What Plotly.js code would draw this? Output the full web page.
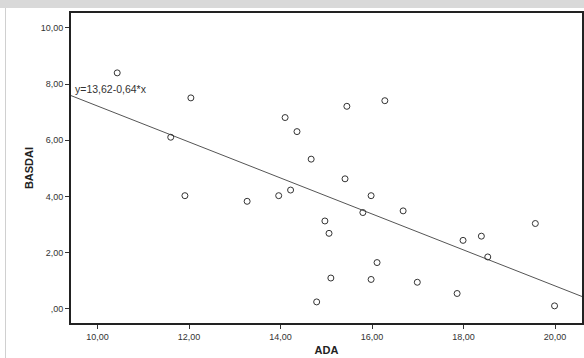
<!DOCTYPE html>
<html>
<head>
<meta charset="utf-8">
<script src="https://cdn.plot.ly/plotly-3.0.1.min.js"></script>
<style>
html,body{margin:0;padding:0;background:#fff;}
#wrap{position:relative;width:584px;height:358px;overflow:hidden;}
#topbar{position:absolute;left:0;top:0;width:584px;height:8px;background:#d9d9d9;}
#leftline{position:absolute;left:5px;top:8px;width:1px;height:350px;background:#d0d0d0;}
#chart{position:absolute;left:0;top:0;width:584px;height:358px;}
</style>
</head>
<body>
<div id="wrap">
<div id="topbar"></div>
<div id="leftline"></div>
<div id="chart"></div>
</div>
<script>
const ada = [10.43, 12.04, 11.60, 11.91, 13.27, 14.10, 14.36, 14.67, 13.96, 14.22, 14.79,
             15.45, 16.28, 15.41, 15.98, 15.80, 16.68, 14.97, 15.06, 19.57, 17.99, 18.39,
             18.53, 16.11, 15.10, 15.98, 16.99, 17.86, 19.99];
const basdai = [8.40, 7.51, 6.11, 4.03, 3.83, 6.81, 6.31, 5.33, 4.03, 4.23, 0.25,
                7.21, 7.41, 4.63, 4.03, 3.43, 3.49, 3.13, 2.69, 3.04, 2.44, 2.59,
                1.85, 1.65, 1.10, 1.05, 0.95, 0.55, 0.11];
const fitCoef = [13.62, -0.64];
const fitLabel = "y=13,62-0,64*x";
const xTickVals = [10, 12, 14, 16, 18, 20];
const xTickText = ["10,00", "12,00", "14,00", "16,00", "18,00", "20,00"];
const yTickVals = [0, 2, 4, 6, 8, 10];
const yTickText = [",00", "2,00", "4,00", "6,00", "8,00", "10,00"];
const xRange = [9.42, 20.59];
const yRange = [-0.5, 10.53];

const fitX = xRange.slice();
const fitY = fitX.map(x => fitCoef[0] + fitCoef[1] * x);

const traces = [
  {x: fitX, y: fitY, mode: 'lines', type: 'scatter',
   line: {color: '#555', width: 1}, hoverinfo: 'skip', showlegend: false, cliponaxis: true},
  {x: ada, y: basdai, mode: 'markers', type: 'scatter',
   marker: {symbol: 'circle-open', size: 6, color: '#333', line: {width: 1, color: '#333'}},
   showlegend: false}
];

const axFont = {family: 'Liberation Sans, Arial, sans-serif', size: 9, color: '#333'};
const titleFont = {family: 'Liberation Sans, Arial, sans-serif', size: 11, color: '#222', weight: 'bold'};

const layout = {
  width: 584, height: 358,
  margin: {l: 71, r: 2, t: 13, b: 35, pad: 0},
  paper_bgcolor: 'rgba(0,0,0,0)',
  plot_bgcolor: '#fff',
  xaxis: {
    range: xRange, tickvals: xTickVals, ticktext: xTickText,
    showgrid: false, zeroline: false,
    showline: true, mirror: true, linecolor: '#222', linewidth: 2,
    ticks: 'outside', ticklen: 4, tickcolor: '#333', tickwidth: 1,
    tickfont: axFont,
    title: {text: '<b>ADA</b>', font: titleFont, standoff: 6}
  },
  yaxis: {
    range: yRange, tickvals: yTickVals, ticktext: yTickText,
    showgrid: false, zeroline: false,
    showline: true, mirror: true, linecolor: '#222', linewidth: 2,
    ticks: 'outside', ticklen: 4, tickcolor: '#333', tickwidth: 1,
    tickfont: axFont,
    title: {text: '<b>BASDAI</b>', font: titleFont, standoff: 5}
  },
  annotations: [{
    x: xRange[0], y: 7.83, xref: 'x', yref: 'y', xanchor: 'left', yanchor: 'middle',
    text: fitLabel, showarrow: false, xshift: 2,
    font: {family: 'Liberation Sans, Arial, sans-serif', size: 10.5, color: '#333'}
  }]
};

Plotly.newPlot('chart', traces, layout, {staticPlot: true, displayModeBar: false});
</script>
</body>
</html>
